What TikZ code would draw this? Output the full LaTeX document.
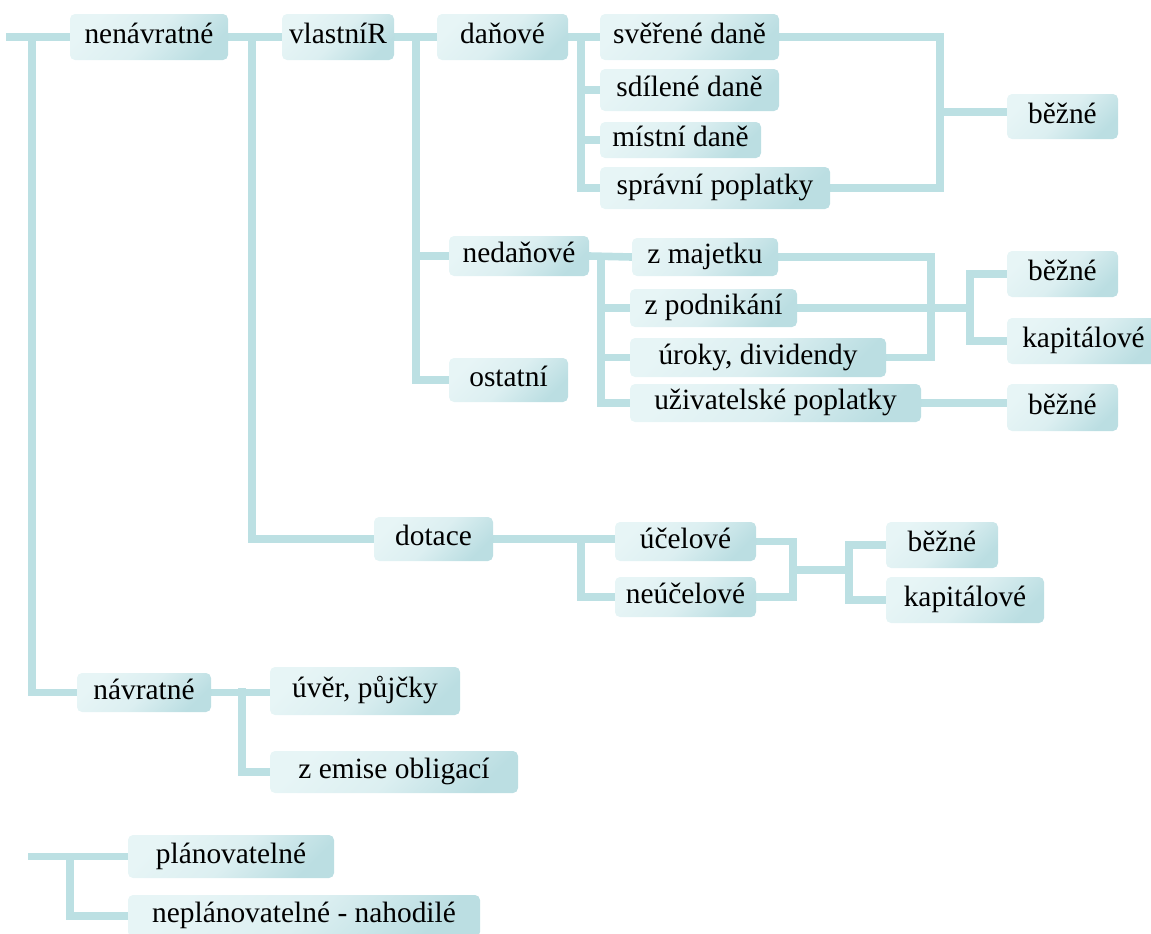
\documentclass[tikz,border=0pt]{standalone}
\usepackage{fontspec}
\setmainfont{Liberation Serif}
\usetikzlibrary{backgrounds}
\definecolor{boxlight}{HTML}{E7F5F6}
\definecolor{boxmid}{HTML}{DCEFF1}
\definecolor{boxdark}{HTML}{BBDEE2}
\definecolor{conncol}{HTML}{BCE0E3}
\tikzset{
  box/.style={rounded corners=2.5pt, top color=boxlight, bottom color=boxdark, middle color=boxmid,
    shading angle=45, inner sep=0pt, text height=10pt, text depth=3.5pt,
    font=\fontsize{14.7}{17}\selectfont},
  conn/.style={draw=conncol, line width=3.8pt, line cap=rect, line join=miter},
}
\begin{document}
\begin{tikzpicture}[x=0.5pt,y=-0.5pt]
\clip (0,0) rectangle (1151,933);
% nodes
\node[box, minimum width=79pt, minimum height=23pt] (nenavratne) at (149,37) {nenávratné};
\node[box, minimum width=56pt, minimum height=23pt] (vlastni) at (338,37) {vlastníR};
\node[box, minimum width=65.5pt, minimum height=23pt] (danove) at (502.5,37) {daňové};
\node[box, minimum width=89.5pt, minimum height=23pt] (sverene) at (689.5,37) {svěřené daně};
\node[box, minimum width=89.5pt, minimum height=21pt] (sdilene) at (689.5,90) {sdílené daně};
\node[box, minimum width=80.5pt, minimum height=18pt] (mistni) at (680.5,140) {místní daně};
\node[box, minimum width=115pt, minimum height=21pt] (spravni) at (715,188) {správní poplatky};
\node[box, minimum width=55.5pt, minimum height=22.5pt] (bezne1) at (1062.5,116.5) {běžné};
\node[box, minimum width=70pt, minimum height=20pt] (nedanove) at (519,256) {nedaňové};
\node[box, minimum width=73pt, minimum height=19pt] (zmajetku) at (705,257) {z majetku};
\node[box, minimum width=83.5pt, minimum height=19pt] (zpodnikani) at (713.5,308) {z podnikání};
\node[box, minimum width=128pt, minimum height=19.5pt] (uroky) at (758,357.5) {úroky, dividendy};
\node[box, minimum width=145.5pt, minimum height=19pt] (uzivatelske) at (775.5,403) {uživatelské poplatky};
\node[box, minimum width=59.5pt, minimum height=22pt] (ostatni) at (508.5,380) {ostatní};
\node[box, minimum width=55.5pt, minimum height=23pt] (bezne2) at (1062.5,274) {běžné};
\node[box, minimum width=76.5pt, minimum height=23pt] (kapitalove2) at (1083.5,341) {kapitálové};
\node[box, minimum width=55.5pt, minimum height=23.5pt] (bezne3) at (1062.5,407.5) {běžné};
\node[box, minimum width=59.5pt, minimum height=22pt] (dotace) at (433.5,539) {dotace};
\node[box, minimum width=70.5pt, minimum height=19.5pt] (ucelove) at (685.5,541.5) {účelové};
\node[box, minimum width=70.5pt, minimum height=20pt] (neucelove) at (685.5,597) {neúčelové};
\node[box, minimum width=56pt, minimum height=23pt] (bezne4) at (942,545) {běžné};
\node[box, minimum width=79pt, minimum height=23pt] (kapitalove4) at (965,600) {kapitálové};
\node[box, minimum width=67pt, minimum height=19.5pt] (navratne) at (144,692.5) {návratné};
\node[box, minimum width=95pt, minimum height=24pt] (uver) at (365,691) {úvěr, půjčky};
\node[box, minimum width=124pt, minimum height=21pt] (zemise) at (394,772) {z emise obligací};
\node[box, minimum width=103pt, minimum height=21.5pt] (planovatelne) at (231,856.5) {plánovatelné};
\node[box, minimum width=176pt, minimum height=21pt] (neplanovatelne) at (304,916) {neplánovatelné - nahodilé};
% coordinates
\coordinate (root) at (10,37);
\coordinate (t0) at (32,37);
\coordinate (t1) at (252,37);
\coordinate (t2) at (416,37);
\coordinate (t3) at (581,37);
\coordinate (b1) at (940,112);
\coordinate (t4) at (601,257);
\coordinate (b2) at (931,308);
\coordinate (b3) at (970,308);
\coordinate (t5) at (581,539);
\coordinate (b4) at (793,570);
\coordinate (b5) at (849,570);
\coordinate (t6) at (242,692);
\coordinate (root2) at (32,856.5);
\coordinate (t7) at (70,856.5);
% connectors
\begin{scope}[on background layer]
\draw[conn] (root) -- (nenavratne.west);
\draw[conn] (t0) |- (navratne.west);
\draw[conn] (nenavratne.east) -- (vlastni.west);
\draw[conn] (t1) |- (dotace.west);
\draw[conn] (vlastni.east) -- (danove.west);
\draw[conn] (t2) |- (nedanove.west);
\draw[conn] (t2) |- (ostatni.west);
\draw[conn] (danove.east) -- (sverene.west);
\draw[conn] (t3) |- (sdilene.west);
\draw[conn] (t3) |- (mistni.west);
\draw[conn] (t3) |- (spravni.west);
\draw[conn] (sverene.east) -| (b1) |- (spravni.east);
\draw[conn] (b1) -- (b1 -| bezne1.west);
\draw[conn] (nedanove.east) -- (zmajetku.west);
\draw[conn] (t4) |- (zpodnikani.west);
\draw[conn] (t4) |- (uroky.west);
\draw[conn] (t4) |- (uzivatelske.west);
\draw[conn] (zmajetku.east) -| (b2) |- (uroky.east);
\draw[conn] (zpodnikani.east) -- (b2) -- (b3);
\draw[conn] (bezne2.west) -| (b3) |- (kapitalove2.west);
\draw[conn] (uzivatelske.east) -- (uzivatelske.east -| bezne3.west);
\draw[conn] (dotace.east) -- (dotace.east -| ucelove.west);
\draw[conn] (t5) |- (neucelove.west);
\draw[conn] (ucelove.east) -| (b4) |- (neucelove.east);
\draw[conn] (b4) -- (b5);
\draw[conn] (bezne4.west) -| (b5) |- (kapitalove4.west);
\draw[conn] (navratne.east) -- (navratne.east -| uver.west);
\draw[conn] (t6) |- (zemise.west);
\draw[conn] (root2) -- (planovatelne.west);
\draw[conn] (t7) |- (neplanovatelne.west);
\end{scope}
\end{tikzpicture}
\end{document}
